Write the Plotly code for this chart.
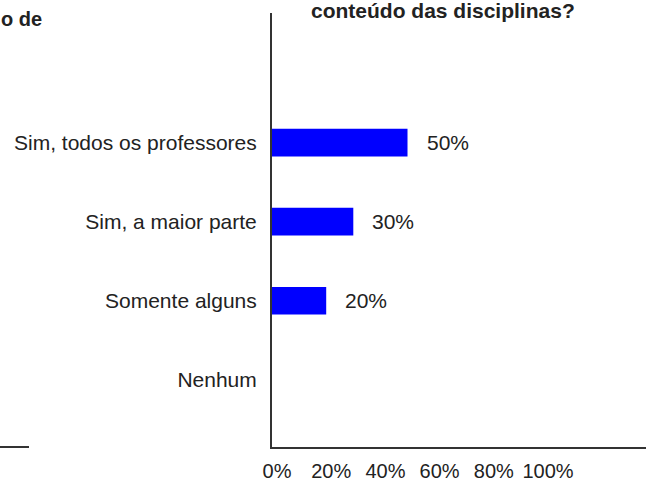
import plotly.graph_objects as go

categories = ["Sim, todos os professores", "Sim, a maior parte", "Somente alguns", "Nenhum"]
values = [0.50, 0.30, 0.20, 0.0]
value_labels = ["50%", "30%", "20%", ""]
tick_vals = [0, 0.2, 0.4, 0.6, 0.8, 1.0]
tick_text = ["0%", "20%", "40%", "60%", "80%", "100%"]
title_text = "conteúdo das disciplinas?"
left_title_text = "o de"

FONT = "Liberation Sans, Arial, sans-serif"
TXT = "#222222"
W, H = 646, 482
ML, MR, MT, MB = 272, 0, 13, 30
pw = W - ML - MR

def px_to_paper_x(px):
    return (px - ML) / pw

fig = go.Figure()
fig.add_trace(go.Bar(
    x=values, y=categories, orientation="h",
    marker=dict(color="#0000ff", line=dict(width=0)),
    width=0.35, hoverinfo="skip",
))

annotations = []
for v, c, t in zip(values, categories, value_labels):
    if t:
        annotations.append(dict(x=v, y=c, xref="x", yref="y", text=t, showarrow=False,
                                xanchor="left", yanchor="middle", xshift=17,
                                font=dict(family=FONT, size=21, color=TXT)))
annotations.append(dict(x=px_to_paper_x(443), y=1, xref="paper", yref="paper",
                        text="<b>" + title_text + "</b>", showarrow=False,
                        xanchor="center", yanchor="bottom", yshift=-11,
                        font=dict(family=FONT, size=21, color=TXT)))
annotations.append(dict(x=px_to_paper_x(-1), y=1, xref="paper", yref="paper",
                        text="<b>" + left_title_text + "</b>", showarrow=False,
                        xanchor="left", yanchor="bottom", yshift=-19,
                        font=dict(family=FONT, size=20, color=TXT)))

fig.update_layout(
    width=W, height=H,
    margin=dict(l=ML, r=MR, t=MT, b=MB, pad=0),
    paper_bgcolor="white", plot_bgcolor="white",
    showlegend=False,
    font=dict(family=FONT, size=21, color=TXT),
    annotations=annotations,
    shapes=[dict(type="line", xref="paper", yref="paper",
                 x0=px_to_paper_x(0), x1=px_to_paper_x(29), y0=0, y1=0,
                 line=dict(color="#333333", width=2))],
    xaxis=dict(range=[0, 1.38], tickvals=tick_vals, ticktext=tick_text,
               showgrid=False, zeroline=False, showline=True, linecolor="#333333",
               linewidth=2, ticks="", ticklabelstandoff=5, ticklabelshift=5,
               tickfont=dict(family=FONT, size=20, color=TXT), fixedrange=True),
    yaxis=dict(type="category", categoryorder="array", categoryarray=categories,
               range=[3.85, -1.64], showgrid=False, zeroline=False, showline=True,
               linecolor="#333333", linewidth=2, ticks="", ticklabelstandoff=9,
               tickfont=dict(family=FONT, size=21, color=TXT), fixedrange=True),
)

fig.write_html("out.html", config={"displayModeBar": False},
               post_script="document.body.style.margin='0';document.body.style.overflow='hidden';")
